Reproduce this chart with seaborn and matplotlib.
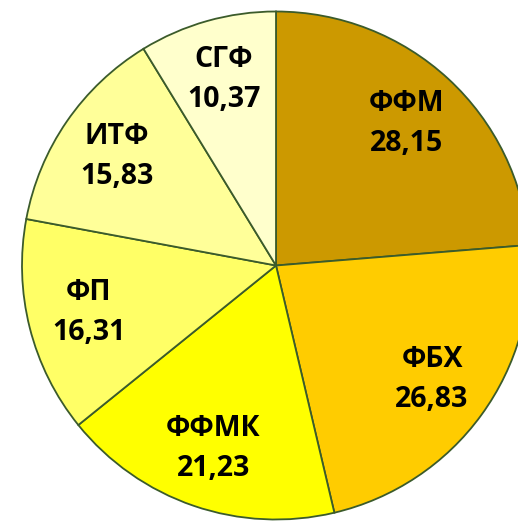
import matplotlib
matplotlib.use("Agg")
import matplotlib.pyplot as plt
import seaborn as sns

# Data
faculties = ['ФФМ', 'ФБХ', 'ФФМК', 'ФП', 'ИТФ', 'СГФ']
shares = [28.15, 26.83, 21.23, 16.31, 15.83, 10.37]
value_labels = ['28,15', '26,83', '21,23', '16,31', '15,83', '10,37']
colors = ['#CC9900', '#FFCC00', '#FFFF00', '#FFFF66', '#FFFF99', '#FFFFCC']

sns.set_theme(style='white')
plt.rcParams['font.family'] = ['Open Sans', 'DejaVu Sans']

W, H = 518, 521
fig = plt.figure(figsize=(W / 100, H / 100), dpi=100)
ax = fig.add_axes([0, 0, 1, 1])

labels = [f'{f}\n{v}' for f, v in zip(faculties, value_labels)]
wedges, texts = ax.pie(
    shares,
    labels=labels,
    colors=sns.color_palette(colors),
    startangle=90,
    counterclock=False,
    labeldistance=0.76,
    wedgeprops=dict(edgecolor='#3B5B2B', linewidth=1.3),
    textprops=dict(fontsize=20.5, fontweight='bold', color='black'),
)
for t in texts:
    t.set_ha('center')
    t.set_va('center')
    t.set_linespacing(1.5)

# place the pie: centre at (276, 265) px, radius 254 px
cx, cy, r = 276, 265.5, 254
ax.set_aspect('auto')
ax.set_xlim(-cx / r, (W - cx) / r)
ax.set_ylim(-(H - cy) / r, cy / r)
ax.axis('off')

fig.savefig('out.png', dpi=100)
